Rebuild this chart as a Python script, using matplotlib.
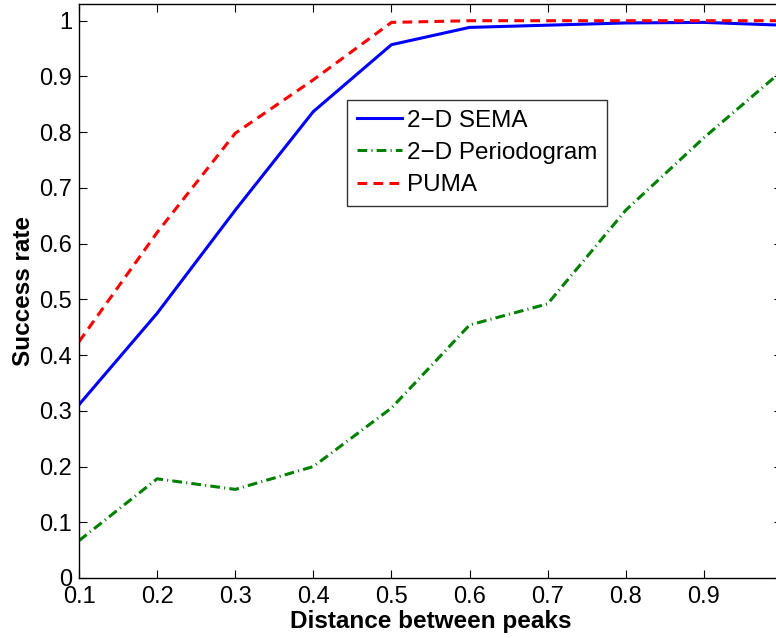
import numpy as np
import matplotlib
matplotlib.use('Agg')
import matplotlib.pyplot as plt

plt.rcParams['font.family'] = ['Liberation Sans', 'DejaVu Sans']
plt.rcParams['lines.scale_dashes'] = False

# distance between peaks
distance = [0.1, 0.2, 0.3, 0.4, 0.5, 0.6, 0.7, 0.8, 0.9, 1.0]

# success rates
sema = [0.311, 0.475, 0.660, 0.837, 0.957, 0.988, 0.992, 0.996, 0.997, 0.992]
periodogram = [0.067, 0.178, 0.159, 0.200, 0.305, 0.454, 0.492, 0.660, 0.790, 0.910]
puma = [0.424, 0.620, 0.798, 0.894, 0.997, 1.000, 1.000, 1.000, 1.000, 1.000]

x_ticks = [0.1, 0.2, 0.3, 0.4, 0.5, 0.6, 0.7, 0.8, 0.9]
y_ticks = [0, 0.1, 0.2, 0.3, 0.4, 0.5, 0.6, 0.7, 0.8, 0.9, 1.0]
y_tick_labels = ['0', '0.1', '0.2', '0.3', '0.4', '0.5', '0.6', '0.7', '0.8', '0.9', '1']

W, H = 776, 638
fig = plt.figure(figsize=(W / 100, H / 100), dpi=100)
# axes run a bit past the right edge of the figure, as in the original
ax = fig.add_axes([79 / W, 60 / H, (782 - 79) / W, (578 - 4) / H])

ax.plot(distance, sema, color='#0000ff', lw=2.2, label='2\u2212D SEMA')
ax.plot(distance, periodogram, color='#008000', lw=2.2,
        dashes=(7, 3, 0.8, 3), label='2\u2212D Periodogram')
ax.plot(distance, puma, color='#ff0000', lw=2.2,
        dashes=(7, 4.5), label='PUMA')

ax.set_xlim(0.1, 1.0)
ax.set_ylim(0, 1.03)
ax.set_xticks(x_ticks)
ax.set_xticklabels([f'{t:g}' for t in x_ticks])
ax.set_yticks(y_ticks)
ax.set_yticklabels(y_tick_labels)
ax.tick_params(direction='in', length=5.5, width=0.8, top=True, right=True,
               labelsize=17)
ax.tick_params(axis='y', pad=5)
ax.tick_params(axis='x', pad=6)
for s in ax.spines.values():
    s.set_linewidth(1.0)

ax.set_xlabel('Distance between peaks', fontsize=17.5, fontweight='bold', labelpad=1)
ax.set_ylabel('Success rate', fontsize=17.5, fontweight='bold', labelpad=3)

leg = ax.legend(loc='upper left', bbox_to_anchor=(347 / W, 1 - 100 / H),
                bbox_transform=fig.transFigure, fontsize=17.5, frameon=True,
                fancybox=False, edgecolor='black', handlelength=1.85,
                handletextpad=0.2, borderpad=0.4, labelspacing=0.42,
                borderaxespad=0)
leg.get_frame().set_linewidth(1.0)

fig.savefig('out.png', dpi=100)
